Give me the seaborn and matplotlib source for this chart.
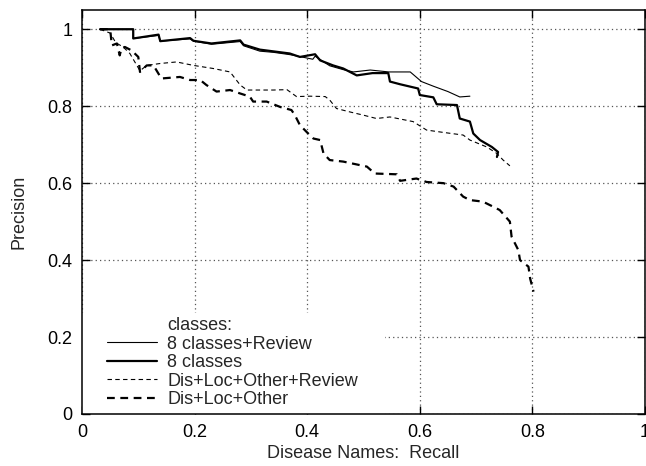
import pandas as pd
import matplotlib
matplotlib.use("Agg")
import matplotlib.pyplot as plt
from matplotlib.lines import Line2D
from matplotlib.patches import Rectangle
import seaborn as sns

# precision / recall curves
rev8_x = [0.032, 0.091, 0.091, 0.136, 0.139, 0.192, 0.198, 0.23, 0.281, 0.287, 0.316, 0.34, 0.369,
          0.387, 0.41, 0.414, 0.44, 0.464, 0.482, 0.512, 0.545, 0.583, 0.603, 0.624, 0.65, 0.671, 0.689]
rev8_y = [1.0, 1.0, 0.976, 0.984, 0.969, 0.975, 0.969, 0.961, 0.968, 0.957, 0.943, 0.940, 0.934,
          0.929, 0.922, 0.930, 0.905, 0.895, 0.889, 0.894, 0.889, 0.889, 0.864, 0.852, 0.838, 0.824, 0.826]

cls8_x = [0.032, 0.091, 0.091, 0.136, 0.139, 0.192, 0.198, 0.23, 0.281, 0.287, 0.316, 0.369, 0.387,
          0.414, 0.423, 0.446, 0.464, 0.488, 0.516, 0.544, 0.547, 0.565, 0.597, 0.600, 0.624, 0.630,
          0.666, 0.671, 0.689, 0.695, 0.707, 0.728, 0.739, 0.737]
cls8_y = [1.0, 1.0, 0.976, 0.986, 0.969, 0.977, 0.970, 0.963, 0.971, 0.960, 0.947, 0.937, 0.928,
          0.935, 0.919, 0.906, 0.898, 0.880, 0.886, 0.886, 0.864, 0.857, 0.846, 0.829, 0.823, 0.805,
          0.803, 0.768, 0.760, 0.729, 0.712, 0.694, 0.681, 0.668]

dlor_x = [0.032, 0.05, 0.06, 0.073, 0.085, 0.103, 0.115, 0.139, 0.168, 0.198, 0.233, 0.263, 0.281,
          0.293, 0.340, 0.364, 0.381, 0.405, 0.432, 0.44, 0.452, 0.476, 0.499, 0.523, 0.547, 0.588,
          0.612, 0.636, 0.677, 0.689, 0.719, 0.737, 0.748, 0.760]
dlor_y = [1.0, 0.99, 0.965, 0.954, 0.937, 0.892, 0.906, 0.911, 0.915, 0.906, 0.898, 0.889, 0.855,
          0.842, 0.842, 0.843, 0.825, 0.826, 0.825, 0.816, 0.794, 0.785, 0.777, 0.768, 0.772, 0.760,
          0.738, 0.733, 0.725, 0.712, 0.694, 0.677, 0.660, 0.645]

dlo_x = [0.032, 0.05, 0.053, 0.062, 0.067, 0.070, 0.076, 0.088, 0.1, 0.103, 0.115, 0.127, 0.141,
         0.174, 0.192, 0.21, 0.221, 0.239, 0.263, 0.281, 0.298, 0.304, 0.328, 0.352, 0.372, 0.378,
         0.387, 0.399, 0.411, 0.423, 0.429, 0.44, 0.464, 0.506, 0.52, 0.559, 0.565, 0.594, 0.612,
         0.642, 0.66, 0.677, 0.689, 0.712, 0.73, 0.742, 0.76, 0.763, 0.775, 0.778, 0.793, 0.796, 0.802]
dlo_y = [1.0, 1.0, 0.958, 0.963, 0.932, 0.950, 0.954, 0.945, 0.928, 0.889, 0.906, 0.906, 0.872,
         0.876, 0.868, 0.868, 0.855, 0.838, 0.842, 0.833, 0.825, 0.812, 0.812, 0.798, 0.790, 0.777,
         0.751, 0.733, 0.716, 0.712, 0.677, 0.660, 0.656, 0.643, 0.625, 0.623, 0.606, 0.612, 0.603,
         0.600, 0.591, 0.565, 0.556, 0.552, 0.539, 0.530, 0.500, 0.461, 0.426, 0.400, 0.383, 0.352, 0.318]

labels = ["8 classes+Review", "8 classes", "Dis+Loc+Other+Review", "Dis+Loc+Other"]
ticks = [0, 0.2, 0.4, 0.6, 0.8, 1]
tick_labels = ["0", "0.2", "0.4", "0.6", "0.8", "1"]

sns.set_style("ticks")
plt.rcParams["font.family"] = ["Liberation Sans", "DejaVu Sans"]
plt.rcParams["font.size"] = 13

fig = plt.figure(figsize=(6.46, 4.66), dpi=100)
ax = fig.add_axes([82 / 646, 52 / 466, 563 / 646, 404 / 466])

styles = [
    (rev8_x, rev8_y, 0.8, "-"),
    (cls8_x, cls8_y, 1.6, "-"),
    (dlor_x, dlor_y, 0.8, (0, (4, 3))),
    (dlo_x, dlo_y, 1.6, (0, (3.5, 2.5))),
]
handles = [Line2D([], [], color="none")]
for (xs, ys, lw, ls), lab in zip(styles, labels):
    sns.lineplot(x=xs, y=ys, ax=ax, sort=False, estimator=None, color="black",
                 linewidth=lw, linestyle=ls, zorder=3)
    handles.append(Line2D([], [], color="black", linewidth=lw, linestyle=ls))

ax.set_xlim(0, 1)
ax.set_ylim(0, 1.05)
ax.set_xticks(ticks)
ax.set_xticklabels(tick_labels)
ax.set_yticks(ticks)
ax.set_yticklabels(tick_labels)
ax.set_axisbelow(True)
ax.grid(True, linestyle=(0, (1, 2.5)), color="#555555", linewidth=0.9)
ax.tick_params(direction="in", length=6, width=1, top=True, right=True, pad=7, colors="black")
for sp in ax.spines.values():
    sp.set_visible(True)
    sp.set_color("black")
    sp.set_linewidth(1.1)

# white key background hides the grid like in gnuplot
ax.add_patch(Rectangle((0, 0), 0.538, 0.262, facecolor="white", edgecolor="none", zorder=1))

leg = ax.legend(handles, ["classes:"] + labels, loc="lower left", bbox_to_anchor=(0.025, -0.012),
                frameon=False, handlelength=2.8, handletextpad=0.55, labelspacing=0.08,
                borderaxespad=0.2, fontsize=13)

ax.set_xlabel("Disease Names:  Recall", labelpad=3)
ax.set_ylabel("Precision", labelpad=14)

fig.savefig("out.png", dpi=100)
